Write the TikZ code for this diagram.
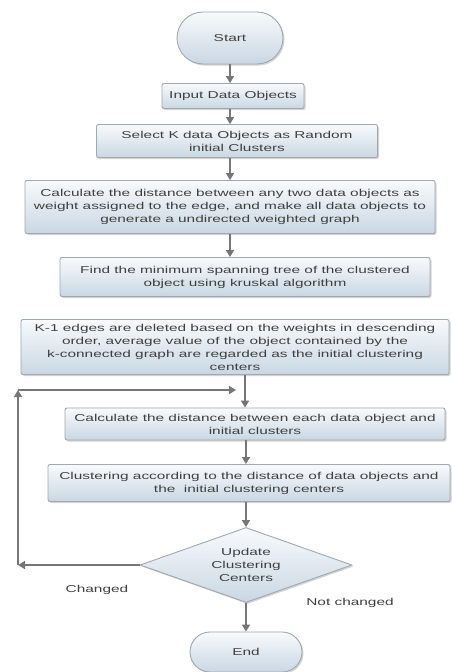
\documentclass[tikz,border=0pt]{standalone}
\usepackage{fontspec}
\setmainfont{Liberation Sans}[FakeStretch=1.54]
\usetikzlibrary{shapes.geometric,shadows,arrows.meta}
\definecolor{boxtop}{HTML}{F8FAFC}
\definecolor{boxbot}{HTML}{C9D7E3}
\definecolor{boxline}{HTML}{A0A8B0}
\definecolor{txt}{HTML}{404040}
\definecolor{arrcol}{HTML}{767676}
\tikzset{
  base/.style={draw=boxline, line width=0.9pt, top color=boxtop, bottom color=boxbot,
    drop shadow={shadow xshift=1.5pt, shadow yshift=-1.5pt, opacity=0.35},
    align=center, text=txt, inner sep=0pt, font=\fontsize{10}{13}\selectfont},
  proc/.style={base, rectangle, rounded corners=2pt},
  term/.style={base, rectangle, rounded corners=20pt},
  decision/.style={base, diamond, aspect=2.8},
  arr/.style={draw=arrcol, line width=1.6pt, -{Triangle[length=7pt,width=8pt]}},
  lbl/.style={text=txt, font=\fontsize{10}{13}\selectfont}
}
\begin{document}
\begin{tikzpicture}[x=1pt,y=-1pt]
\useasboundingbox (0,0) rectangle (452,672);
\node[term, rounded corners=26pt, minimum width=106pt, minimum height=52pt] (start) at (230,38) {Start};
\node[proc, minimum width=142pt, minimum height=25pt] (in) at (233,96) {Input Data Objects};
\node[proc, minimum width=281pt, minimum height=33pt] (sel) at (237,141) {Select K data Objects as Random\\initial Clusters};
\node[proc, minimum width=410pt, minimum height=53pt] (calc) at (230,207) {Calculate the distance between any two data objects as\\weight assigned to the edge, and make all data objects to\\generate a undirected weighted graph};
\node[proc, minimum width=370pt, minimum height=39pt] (find) at (245,277) {Find the minimum spanning tree of the clustered\\object using kruskal algorithm};
\node[proc, minimum width=428pt, minimum height=55pt] (k1) at (235,347) {K-1 edges are deleted based on the weights in descending\\order, average value of the object contained by the\\k-connected graph are regarded as the initial clustering\\centers};
\node[proc, minimum width=380pt, minimum height=32pt] (cd) at (255,424) {Calculate the distance between each data object and\\initial clusters};
\node[proc, minimum width=402pt, minimum height=37pt] (cl) at (249,483) {Clustering according to the distance of data objects and\\the\ \ initial clustering centers};
\node[decision, minimum width=212pt, minimum height=75pt] (d) at (246,565) {Update\\Clustering\\Centers};
\node[term, minimum width=112pt, minimum height=40pt] (end) at (246,652) {End};
\node[lbl] (lch) at (97,590) {Changed};
\node[lbl] (lnc) at (350,603) {Not changed};
\coordinate (lb) at (18,565);
\coordinate (lt) at (18,390);
\coordinate (jl) at (236,390);
\coordinate (j) at (245,390);
\draw[arr] (start.south) -- (start.south |- in.north);
\draw[arr] (in.south -| start.south) -- (start.south |- sel.north);
\draw[arr] (sel.south -| calc.north) -- (calc.north);
\draw[arr] (calc.south) -- (calc.south |- find.north);
\draw[arr] (k1.south -| j) -- (j |- cd.north);
\draw[arr] (cd.south -| d.north) -- (cl.north -| d.north);
\draw[arr] (cl.south -| d.north) -- (d.north);
\draw[arr] (d.south) -- (end.north);
\draw[arr] (d.west) -- (lb);
\draw[arr] (lb) -- (lt);
\draw[arr] (lt) -- (jl);
\end{tikzpicture}
\end{document}
